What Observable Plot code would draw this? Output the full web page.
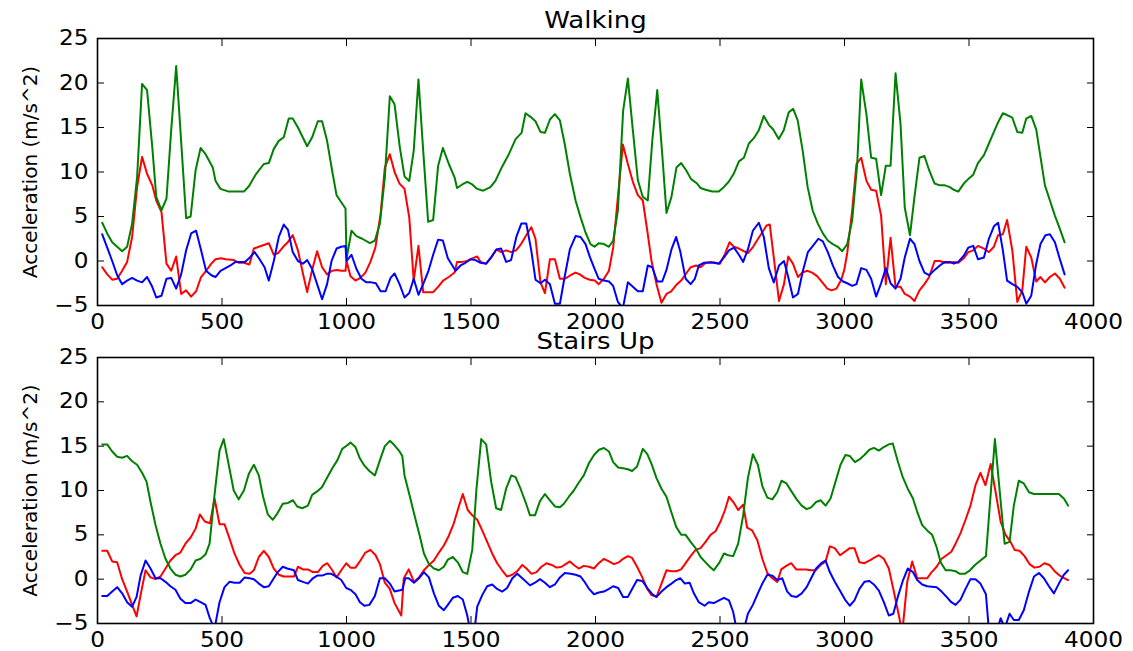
<!DOCTYPE html>
<html><head><meta charset="utf-8">
<script src="https://cdn.jsdelivr.net/npm/d3@7"></script>
<script src="https://cdn.jsdelivr.net/npm/@observablehq/plot@0.6"></script>
<style>
body{margin:0;background:#fff;}
#wrap{position:relative;width:1133px;height:651px;overflow:hidden;background:#fff;}
#wrap svg{position:absolute;left:0;}
</style></head><body><div id="wrap"></div>
<script>
const titles = ["Walking", "Stairs Up"];
const yLabel = "Acceleration (m/s^2)";
const xTicks = [0,500,1000,1500,2000,2500,3000,3500,4000];
const yTicks = [-5,0,5,10,15,20,25];

// ---- Walking ----
const walkGreenX = [19,39,59,99,119,139,159,179,199,220,236,257,277,296,316,333,356,374,394,414,434,463,474,494,527,588,608,635,668,688,708,728,748,768,784,805,842,862,885,902,922,942,960,979,996,1000,1020,1040,1063,1094,1114,1134,1154,1174,1193,1214,1233,1252,1270,1289,1308,1328,1348,1368,1387,1411,1434,1444,1465,1485,1505,1525,1549,1578,1598,1625,1652,1679,1703,1719,1739,1759,1779,1797,1817,1837,1857,1876,1897,1920,1940,1960,1980,1996,2013,2034,2054,2071,2090,2111,2130,2150,2170,2190,2210,2228,2248,2268,2285,2305,2325,2344,2364,2384,2408,2422,2442,2469,2495,2515,2535,2555,2576,2596,2616,2636,2656,2676,2696,2713,2736,2756,2776,2794,2812,2832,2852,2872,2893,2913,2933,2953,2973,2991,3011,3031,3051,3067,3088,3107,3127,3147,3166,3185,3205,3225,3242,3263,3281,3301,3321,3340,3362,3383,3403,3423,3439,3457,3479,3497,3517,3536,3560,3580,3600,3617,3636,3653,3674,3694,3714,3730,3750,3770,3787,3805,3825,3845,3865,3884];
const walkGreenY = [4.3,3.1,2.1,1.1,1.6,4.2,9.4,19.9,19.2,12.8,7.2,5.7,7.0,14.7,21.9,14.7,4.8,5.0,10.2,12.7,12.0,10.5,9.0,8.1,7.8,7.8,8.4,9.7,10.9,11.0,12.6,13.5,13.9,16.0,16.0,15.0,12.9,13.9,15.7,15.7,13.5,10.2,7.4,6.6,5.9,0.2,3.4,2.8,2.5,2.0,2.3,4.2,9.4,18.5,17.6,12.8,9.5,9.0,12.4,20.4,12.4,4.4,4.6,10.7,12.7,10.9,9.4,8.2,8.6,8.9,8.6,8.1,7.9,8.3,9.0,10.6,12.0,13.7,14.4,16.6,16.2,15.7,14.5,14.4,15.9,16.5,15.8,13.2,9.8,6.8,4.9,3.2,1.9,1.6,2.0,1.9,1.6,2.3,5.7,16.9,20.5,14.7,9.1,7.2,6.8,13.5,19.2,12.0,5.4,7.2,10.5,11.0,10.2,9.2,8.7,8.2,8.0,7.8,7.8,8.3,8.9,9.8,11.2,11.6,13.2,13.8,14.7,16.3,15.3,14.8,13.7,14.7,16.7,17.1,15.8,12.4,8.3,5.7,4.2,3.1,2.3,1.9,1.6,1.1,1.9,4.6,10.9,20.4,16.5,11.6,11.5,7.4,10.7,10.7,21.1,15.4,6.0,2.9,7.2,11.6,11.8,10.2,8.7,8.5,8.5,8.3,8.0,7.8,8.7,9.2,9.7,11.0,11.9,13.2,14.5,15.6,16.6,16.4,16.1,14.5,14.4,16.0,16.3,14.8,11.7,8.5,6.8,5.1,3.6,2.1];

const walkRedX = [19,39,59,79,99,119,139,159,179,199,220,236,257,277,296,316,336,356,376,396,416,436,457,474,497,514,548,568,588,610,628,648,668,688,708,726,746,764,784,805,825,842,862,882,902,922,942,963,979,996,1000,1016,1036,1056,1076,1096,1116,1137,1154,1174,1193,1213,1233,1252,1270,1289,1308,1328,1348,1368,1388,1411,1434,1444,1465,1485,1505,1525,1538,1561,1581,1602,1621,1641,1661,1681,1701,1722,1742,1759,1779,1797,1817,1837,1857,1876,1900,1920,1937,1957,1977,1997,2013,2034,2054,2071,2090,2110,2130,2150,2170,2190,2208,2225,2245,2265,2285,2304,2324,2344,2364,2382,2404,2422,2442,2462,2482,2500,2520,2538,2556,2576,2596,2613,2633,2653,2674,2687,2700,2719,2737,2757,2774,2793,2813,2830,2850,2870,2890,2911,2931,2948,2968,2987,2999,3011,3031,3048,3067,3088,3107,3127,3147,3166,3185,3205,3225,3242,3263,3281,3301,3321,3340,3362,3383,3403,3423,3439,3457,3479,3497,3517,3536,3560,3580,3600,3617,3636,3653,3674,3694,3714,3730,3750,3770,3787,3805,3825,3845,3865,3884];
const walkRedY = [-0.7,-1.5,-2.1,-2.0,-1.1,-0.1,2.7,8.3,11.7,9.8,8.5,6.8,5.5,-0.3,-1.1,0.5,-3.7,-3.3,-4.0,-3.4,-1.8,-1.1,-0.3,0.2,0.3,0.2,0.1,-0.2,-0.2,-0.4,1.4,1.6,1.8,2.0,0.7,0.9,1.6,2.1,2.9,1.2,-1.4,-3.5,-1.0,1.1,-0.7,-1.5,-1.1,-1.0,-1.1,-1.1,0.0,-1.7,-2.2,-1.9,-1.3,-0.1,1.5,5.3,10.5,12.0,10.0,8.7,8.1,4.9,-2.2,1.7,-3.5,-3.5,-3.5,-2.9,-2.2,-1.8,-1.3,-0.1,-0.1,0.0,0.3,0.5,-0.1,-0.3,0.4,1.3,1.0,1.2,1.0,1.2,1.9,2.9,3.8,2.5,-2.4,-3.6,0.2,0.2,-2.0,-2.0,-1.6,-1.3,-1.5,-1.9,-2.1,-2.2,-2.6,-2.0,-1.1,1.5,7.2,13.1,10.9,8.9,7.4,6.8,3.4,0.0,-2.6,-4.7,-3.7,-3.4,-2.7,-2.2,-1.4,-0.7,-0.5,-0.7,-0.2,-0.1,-0.2,-0.3,0.8,2.1,1.6,1.4,1.1,0.9,1.6,2.5,3.4,4.0,4.1,-0.3,-4.5,-2.6,0.5,-0.3,-1.8,-1.3,-1.1,-1.3,-1.7,-2.4,-3.1,-3.3,-3.1,-2.1,-1.0,0.9,5.7,10.9,11.6,9.0,8.0,7.9,5.1,-2.6,2.6,-2.9,-2.9,-3.7,-4.0,-4.5,-3.3,-2.6,-1.8,0.0,0.0,-0.2,-0.2,-0.1,-0.2,0.3,1.0,1.2,1.7,1.4,1.0,1.6,2.9,3.0,4.6,1.2,-4.6,-3.3,1.6,0.4,-2.3,-1.8,-2.4,-1.8,-1.4,-2.0,-3.0];

const walkBlueX = [19,39,59,79,99,119,139,159,179,199,220,236,257,277,296,316,336,356,376,396,416,436,457,474,494,514,534,554,575,592,612,631,651,671,688,708,728,748,765,784,805,825,842,862,882,902,922,940,960,979,996,1000,1020,1040,1060,1080,1100,1118,1137,1157,1177,1193,1213,1233,1252,1270,1289,1308,1328,1348,1368,1387,1407,1438,1458,1478,1498,1518,1538,1561,1581,1602,1621,1641,1661,1682,1702,1722,1742,1759,1779,1797,1817,1837,1857,1876,1897,1920,1940,1960,1978,1995,2013,2034,2054,2071,2090,2110,2130,2150,2170,2190,2210,2228,2248,2268,2285,2305,2324,2341,2362,2382,2399,2415,2435,2455,2475,2495,2516,2536,2556,2576,2593,2612,2632,2656,2676,2696,2716,2737,2757,2774,2793,2813,2833,2853,2873,2895,2913,2933,2953,2974,2994,3011,3031,3048,3067,3088,3107,3127,3147,3166,3185,3205,3225,3242,3263,3281,3301,3321,3340,3362,3383,3403,3423,3439,3457,3479,3497,3517,3536,3560,3580,3600,3617,3636,3653,3674,3694,3714,3730,3750,3770,3787,3807,3825,3845,3865,3884];
const walkBlueY = [3.0,1.5,0.0,-1.6,-2.6,-2.2,-1.9,-2.2,-2.4,-1.8,-2.9,-4.1,-3.9,-2.0,-1.9,-3.1,-1.5,1.2,3.1,3.4,1.2,-1.1,-1.6,-1.8,-1.1,-0.8,-0.5,-0.1,-0.1,-0.1,0.4,1.0,0.2,-0.7,-2.2,0.0,2.7,4.1,3.5,1.0,0.0,-0.3,0.1,-0.9,-2.6,-4.3,-2.6,0.0,1.4,1.6,1.7,0.0,0.7,-0.9,-2.0,-2.4,-2.4,-2.5,-3.4,-3.4,-1.9,-1.4,-2.6,-4.1,-3.6,-2.0,-3.8,-2.6,-1.2,0.7,2.4,2.3,0.3,-1.1,-0.5,-0.2,0.2,0.1,-0.2,-0.3,0.4,1.3,1.4,-0.1,0.1,2.7,4.2,4.2,1.2,-2.1,-2.5,-2.1,-2.6,-4.8,-4.8,-1.8,1.3,2.8,2.7,1.9,0.4,-0.8,-2.0,-2.2,-2.3,-2.8,-4.6,-5.3,-2.4,-2.9,-3.4,-3.4,-0.5,-0.7,-2.3,-2.3,-1.0,1.3,2.7,1.0,-2.0,-2.6,-2.0,-0.5,-0.2,-0.2,-0.2,-0.3,0.4,1.2,1.5,0.7,-0.1,1.3,3.4,4.3,2.7,-0.8,-2.4,-0.5,0.0,-1.8,-4.1,-3.7,-1.1,1.0,1.7,2.5,2.2,1.0,-0.5,-1.8,-2.3,-2.5,-2.8,-2.6,-0.8,-1.0,-2.0,-4.0,-2.5,-0.8,-2.5,-3.1,-2.0,0.4,2.5,1.9,0.0,-1.3,-1.6,-1.0,-0.5,-0.1,-0.1,-0.3,-0.1,0.6,1.5,1.7,0.2,0.4,2.5,3.9,4.3,1.2,-2.2,-2.6,-2.9,-3.5,-4.8,-3.9,-0.3,1.9,2.9,3.0,2.1,0.2,-1.5];

// ---- Stairs Up ----
const stairsGreenX = [19,39,59,79,99,119,139,159,179,197,213,233,253,273,293,313,333,353,374,394,414,434,450,470,490,507,527,547,567,588,608,628,648,665,684,704,722,744,765,785,802,822,845,862,882,902,923,943,963,983,1003,1016,1036,1054,1072,1092,1114,1134,1154,1174,1193,1213,1224,1233,1253,1273,1293,1311,1331,1351,1371,1391,1407,1427,1447,1467,1485,1505,1522,1541,1561,1581,1601,1621,1641,1662,1679,1699,1719,1737,1757,1777,1797,1817,1837,1857,1873,1893,1913,1933,1953,1974,1994,2014,2034,2054,2071,2091,2111,2130,2147,2167,2190,2208,2225,2245,2265,2285,2304,2324,2344,2362,2382,2402,2422,2442,2459,2475,2496,2516,2533,2553,2573,2593,2612,2632,2652,2670,2690,2710,2730,2747,2767,2787,2808,2828,2848,2866,2886,2904,2924,2944,2964,2984,3004,3021,3042,3060,3080,3100,3118,3138,3158,3178,3194,3214,3234,3254,3275,3292,3312,3332,3352,3370,3386,3406,3426,3446,3463,3483,3504,3524,3546,3568,3604,3643,3663,3680,3700,3720,3741,3761,3781,3801,3821,3841,3861,3881,3898];
const stairsGreenY = [15.2,15.2,14.4,13.8,13.7,13.9,13.3,12.9,12.0,11.0,8.7,6.1,4.0,2.3,1.2,0.5,0.3,0.5,1.1,2.1,2.3,2.8,4.0,9.5,14.5,15.8,12.9,10.0,9.0,10.0,11.9,12.9,11.7,9.3,7.3,6.7,7.4,8.5,8.6,8.9,8.2,8.0,8.3,9.5,9.9,10.4,11.5,12.5,13.4,14.7,15.1,15.4,14.9,13.6,12.8,12.2,11.7,13.4,15.0,15.6,15.1,14.4,13.9,11.7,9.5,7.2,5.0,2.9,1.7,1.2,1.0,1.4,2.2,2.5,1.9,0.8,0.6,3.3,10.2,15.8,15.2,11.0,8.0,7.8,10.2,11.7,11.5,10.2,8.7,7.2,7.2,8.8,9.6,8.9,8.2,8.1,8.5,9.3,10.0,10.9,11.7,13.1,14.0,14.6,14.8,14.4,13.2,12.6,12.5,12.4,12.2,12.7,14.7,14.1,13.0,11.4,10.2,9.3,7.6,5.9,5.0,5.0,4.2,3.5,2.5,1.9,1.4,1.0,1.8,2.9,2.7,2.6,4.0,7.2,11.4,14.1,12.9,10.5,9.2,9.0,9.8,11.1,10.8,9.9,9.0,8.3,7.9,8.1,8.7,8.9,8.3,9.1,11.0,12.9,14.0,13.9,13.2,13.5,14.0,14.6,14.8,14.5,14.9,15.2,15.3,13.3,11.5,10.2,9.1,7.6,6.1,5.5,5.0,3.6,1.9,1.0,1.0,0.9,0.6,0.6,1.0,1.6,2.1,2.6,15.8,4.0,4.2,8.3,11.1,10.8,9.8,9.6,9.6,9.6,9.6,9.6,9.6,9.1,8.3];

const stairsRedX = [19,39,59,79,99,119,139,157,173,193,213,233,253,273,293,313,333,353,374,394,411,431,452,470,490,510,530,550,571,591,611,628,648,668,688,708,728,748,769,789,805,825,845,865,885,905,923,943,960,979,999,1016,1036,1056,1076,1096,1117,1134,1154,1174,1193,1220,1230,1250,1271,1291,1311,1331,1351,1371,1391,1411,1431,1451,1467,1487,1505,1525,1545,1565,1585,1605,1625,1645,1666,1686,1706,1723,1743,1763,1783,1803,1824,1844,1864,1880,1897,1913,1933,1953,1974,1994,2013,2034,2054,2074,2094,2111,2130,2147,2167,2188,2208,2225,2245,2265,2285,2305,2324,2344,2362,2382,2402,2422,2442,2462,2482,2502,2520,2536,2556,2573,2593,2609,2629,2650,2670,2690,2710,2730,2746,2766,2786,2806,2826,2846,2864,2884,2904,2924,2941,2961,2982,3002,3021,3040,3060,3080,3100,3118,3138,3158,3178,3196,3214,3232,3252,3272,3292,3312,3332,3350,3370,3390,3410,3429,3446,3466,3486,3506,3526,3546,3566,3587,3607,3627,3647,3667,3683,3703,3723,3743,3763,3783,3803,3823,3844,3864,3884,3898];
const stairsRedY = [3.2,3.2,2.0,1.9,0.0,-1.4,-2.9,-4.2,-1.8,1.0,0.2,0.0,0.3,1.2,2.1,2.7,3.0,4.0,4.7,5.7,7.3,6.5,6.3,9.1,6.2,6.2,4.6,2.9,1.6,0.7,0.6,1.0,2.5,3.2,2.5,1.2,0.5,0.3,0.3,0.3,1.4,1.1,1.1,0.8,0.8,1.5,1.8,1.0,0.2,1.0,1.8,1.3,1.3,2.1,3.0,3.3,2.7,1.7,-0.4,-1.1,-2.7,-4.1,0.1,1.1,-0.3,0.2,1.0,1.6,2.1,3.0,3.8,4.9,6.3,8.2,9.6,7.8,7.2,6.7,5.5,4.2,2.9,1.8,1.0,0.3,0.5,0.9,1.6,1.2,0.6,0.8,1.4,1.8,1.6,1.3,1.4,1.7,2.0,1.6,1.2,1.5,1.4,1.2,1.8,2.3,2.0,1.7,1.9,2.3,2.6,2.4,1.4,0.2,-1.1,-1.8,-2.0,-0.5,1.0,0.9,0.9,1.1,1.8,2.6,3.3,3.5,4.2,5.0,5.4,6.5,7.8,9.3,8.6,7.8,8.4,5.8,5.5,4.4,2.3,0.7,0.1,-0.3,1.1,1.5,1.8,1.1,1.1,1.1,1.0,1.0,1.6,2.0,3.7,3.5,2.7,3.1,3.5,3.5,1.9,1.8,2.1,2.4,2.7,2.3,1.2,-1.1,-3.5,-6.0,-0.3,2.0,0.1,0.1,0.1,0.8,1.4,2.3,2.7,3.1,4.0,5.2,6.7,8.3,10.6,12.0,10.6,13.0,9.8,6.5,5.0,4.2,3.3,3.2,2.6,1.7,1.3,1.4,1.8,1.6,0.9,0.4,0.1,-0.1];

const stairsBlueX = [19,39,59,79,99,119,139,157,173,193,213,233,253,273,293,313,333,353,374,394,414,434,451,470,490,510,530,550,571,591,611,628,648,668,688,708,724,744,762,789,805,825,845,865,882,902,920,939,959,979,999,1016,1036,1054,1072,1092,1114,1134,1154,1174,1193,1224,1236,1250,1271,1291,1311,1331,1351,1371,1391,1407,1427,1447,1467,1485,1500,1512,1525,1545,1565,1585,1605,1625,1645,1666,1686,1706,1737,1757,1777,1797,1817,1837,1857,1877,1900,1920,1940,1956,1974,1994,2013,2034,2054,2071,2091,2111,2130,2147,2167,2188,2208,2228,2245,2265,2285,2305,2324,2341,2359,2378,2395,2415,2438,2455,2475,2496,2516,2536,2553,2569,2593,2612,2632,2652,2670,2690,2710,2730,2750,2770,2787,2808,2828,2848,2866,2886,2907,2924,2941,2961,2982,3002,3021,3040,3060,3080,3100,3118,3138,3158,3178,3196,3214,3234,3254,3275,3292,3312,3332,3370,3390,3410,3429,3446,3466,3486,3506,3526,3546,3568,3582,3605,3627,3644,3663,3680,3700,3720,3741,3761,3781,3801,3821,3841,3861,3881,3898];
const stairsBlueY = [-1.9,-1.9,-1.4,-0.9,-1.6,-2.6,-3.1,-2.0,0.4,2.1,1.2,0.1,0.1,-0.3,-0.8,-1.2,-2.2,-2.7,-2.7,-2.3,-2.6,-2.9,-4.4,-5.6,-2.6,-0.9,-0.3,-0.4,-0.4,0.2,0.1,0.0,-0.5,-0.9,-0.8,0.1,0.8,1.4,1.2,1.0,-0.1,-0.3,-0.5,0.1,0.4,0.4,0.6,0.6,0.3,-0.1,-1.0,-1.2,-1.7,-2.6,-3.0,-2.9,-1.9,0.1,0.1,-0.5,-1.4,-1.2,0.1,0.1,-0.4,0.1,0.8,0.2,-1.6,-3.0,-3.5,-2.9,-2.1,-1.9,-2.3,-4.1,-6.3,-6.3,-3.1,-1.8,-0.8,-0.6,-1.1,-1.4,-1.0,0.1,0.6,0.1,-0.7,-0.4,0.0,-0.4,-0.9,-0.6,0.2,0.7,0.6,0.5,0.3,-0.3,-1.1,-1.7,-1.5,-1.4,-1.1,-0.8,-1.0,-2.0,-2.0,-1.1,-0.1,-0.2,-1.0,-1.7,-2.0,-1.4,-0.9,-0.5,-0.1,0.1,-0.5,-0.4,-1.6,-2.6,-3.0,-2.6,-2.7,-2.4,-2.1,-2.4,-3.7,-6.0,-6.0,-3.9,-2.9,-1.6,-0.5,0.5,0.4,-0.1,0.1,-1.4,-1.9,-2.0,-1.6,-0.9,0.1,1.2,1.8,2.1,0.8,-0.3,-1.3,-2.3,-3.0,-2.4,-1.1,-0.3,-0.2,-0.6,-1.3,-2.6,-4.1,-3.9,-2.0,-0.2,1.2,0.8,-0.1,-0.6,-0.8,-0.9,-1.4,-2.0,-2.6,-2.9,-2.3,-1.1,0.0,0.0,-0.5,-1.7,-6.5,-6.5,-4.4,-5.5,-3.9,-4.6,-4.6,-3.5,-1.4,0.3,0.7,0.1,-0.8,-1.6,-0.5,0.5,1.0];

const RED = "#ff0000", GREEN = "#008000", BLUE = "#0000ff";
const panels = [
  {title: titles[0], top: 0, mt: 38, mb: 46, tdy: -18, series: [[walkRedX, walkRedY, RED], [walkGreenX, walkGreenY, GREEN], [walkBlueX, walkBlueY, BLUE]]},
  {title: titles[1], top: 317, mt: 40, mb: 28, tdy: -16, series: [[stairsRedX, stairsRedY, RED], [stairsGreenX, stairsGreenY, GREEN], [stairsBlueX, stairsBlueY, BLUE]]}
];
const fmtY = d => d < 0 ? "\u2212" + (-d) : String(d);
const wrap = document.getElementById("wrap");

for (const p of panels) {
  const height = p.mt + (p.top === 0 ? 267 : 266) + p.mb;
  const svg = Plot.plot({
    width: 1133, height,
    marginLeft: 97, marginRight: 40, marginTop: p.mt, marginBottom: p.mb,
    x: {domain: [0, 4000]},
    y: {domain: [-5, 25]},
    style: {fontFamily: "'DejaVu Sans', sans-serif", fontSize: "20.5px", color: "black", background: "transparent", overflow: "visible"},
    marks: [
      ...p.series.map(([xs, ys, c]) => Plot.line(xs.map((x, i) => ({x, y: ys[i]})), {x: "x", y: "y", stroke: c, strokeWidth: 2, clip: true, strokeLinejoin: "round"})),
      Plot.frame({stroke: "black", strokeWidth: 1.6}),
      Plot.axisX(xTicks, {anchor: "bottom", tickSize: 0, tickPadding: 9, label: null, tickFormat: d => String(d)}),
      Plot.axisX(xTicks, {anchor: "bottom", tickSize: 7, dy: -7, fill: "none", label: null}),
      Plot.axisX(xTicks, {anchor: "top", tickSize: 7, dy: 7, fill: "none", label: null}),
      Plot.axisY(yTicks, {anchor: "left", tickSize: 0, tickPadding: 9, tickFormat: fmtY, label: yLabel, labelAnchor: "center", labelArrow: "none", labelOffset: 75}),
      Plot.axisY(yTicks, {anchor: "left", tickSize: 7, dx: 7, fill: "none", label: null}),
      Plot.axisY(yTicks, {anchor: "right", tickSize: 7, dx: -7, fill: "none", label: null}),
      Plot.text([p.title], {frameAnchor: "top", dy: p.tdy, lineAnchor: "middle", fontSize: 23, fill: "black"})
    ]
  });
  svg.style.top = p.top + "px";
  wrap.appendChild(svg);
  svg.querySelectorAll('g[aria-label="y-axis label"] text').forEach(t => t.setAttribute("font-size", "20"));
  svg.querySelectorAll('g[aria-label="x-axis tick label"] text, g[aria-label="y-axis tick label"] text').forEach(t => {
    const L = t.getComputedTextLength();
    t.setAttribute("textLength", (L * 1.13).toFixed(1));
    t.setAttribute("lengthAdjust", "spacingAndGlyphs");
  });
  svg.querySelectorAll('g[aria-label="text"] text').forEach(t => {
    const L = t.getComputedTextLength();
    t.setAttribute("textLength", (L * 1.13).toFixed(1));
    t.setAttribute("lengthAdjust", "spacingAndGlyphs");
  });
}
</script></body></html>
